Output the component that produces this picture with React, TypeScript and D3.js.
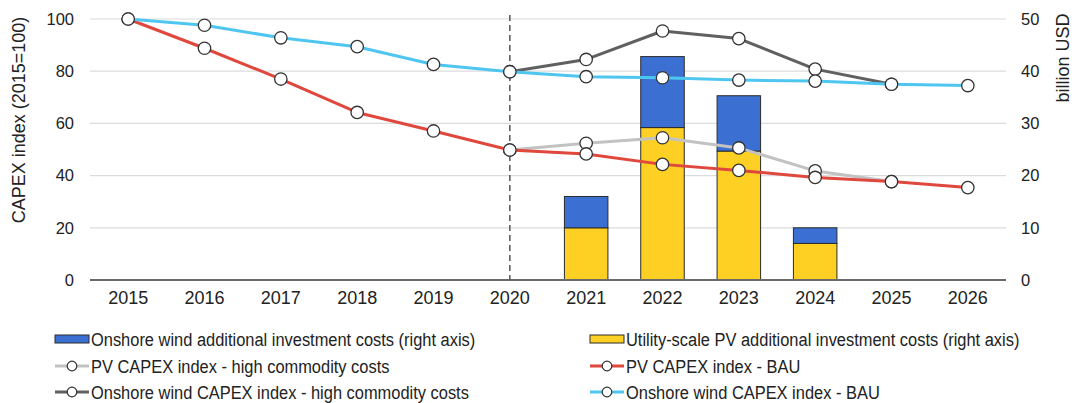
import React from "react";
import * as d3 from "d3";

const years = ["2015","2016","2017","2018","2019","2020","2021","2022","2023","2024","2025","2026"];
const leftTicks = [0, 20, 40, 60, 80, 100];
const rightTicks = [0, 10, 20, 30, 40, 50];

// bars (billion USD, right axis)
const pvInvest: (number | null)[] = [null,null,null,null,null,null,10,29.2,24.7,7,null,null];
const windInvest: (number | null)[] = [null,null,null,null,null,null,6,13.6,10.6,3,null,null];

// lines (index, left axis)
const pvHigh: (number | null)[] = [null,null,null,null,null,49.8,52.4,54.5,50.6,41.8,37.7,null];
const windHigh: (number | null)[] = [null,null,null,null,null,79.8,84.5,95.4,92.5,80.8,75.0,null];
const pvBAU: (number | null)[] = [100,88.8,77.0,64.2,57.1,49.8,48.3,44.3,42.0,39.3,37.7,35.4];
const windBAU: (number | null)[] = [100,97.6,92.8,89.4,82.6,79.8,77.9,77.5,76.6,76.2,75.0,74.5];

const BLUE = "#3b70d2";
const YELLOW = "#fdd023";
const RED = "#e0473d";
const CYAN = "#4fc6f0";
const DARKGRAY = "#606060";
const LIGHTGRAY = "#c2c2c2";
const FONT = "'Liberation Sans', Arial, sans-serif";

export default function App() {
  const W = 1079, H = 403;
  const x = d3.scaleBand<string>().domain(years).range([90, 1006]).paddingInner(0).paddingOuter(0);
  const yL = d3.scaleLinear().domain([0, 100]).range([280, 19]);
  const yR = d3.scaleLinear().domain([0, 50]).range([280, 19]);
  const cx = (y: string) => (x(y) as number) + x.bandwidth() / 2;
  const bw = x.bandwidth() * 0.57;

  const lineGen = d3.line<[string, number | null]>()
    .defined(d => d[1] != null)
    .x(d => cx(d[0]))
    .y(d => yL(d[1] as number));

  const series = [
    { vals: pvHigh, color: LIGHTGRAY },
    { vals: windHigh, color: DARKGRAY },
    { vals: pvBAU, color: RED },
    { vals: windBAU, color: CYAN },
  ];

  const legend = [
    { label: "Onshore wind additional investment costs (right axis)", type: "bar", color: BLUE, col: 0, row: 0 },
    { label: "Utility-scale PV additional investment costs (right axis)", type: "bar", color: YELLOW, col: 1, row: 0 },
    { label: "PV CAPEX index - high commodity costs", type: "line", color: LIGHTGRAY, col: 0, row: 1 },
    { label: "PV CAPEX index - BAU", type: "line", color: RED, col: 1, row: 1 },
    { label: "Onshore wind CAPEX index - high commodity costs", type: "line", color: DARKGRAY, col: 0, row: 2 },
    { label: "Onshore wind CAPEX index - BAU", type: "line", color: CYAN, col: 1, row: 2 },
  ];
  const colX = [55, 590];
  const rowY = [339, 366, 392];

  return (
    <svg width={W} height={H} style={{ position: "absolute", left: 0, top: 0, background: "#fff" }} fontFamily={FONT}>
      <rect x={0} y={0} width={W} height={H} fill="#fff" />
      {/* grid */}
      {leftTicks.filter(t => t > 0).map(t => (
        <line key={t} x1={90} x2={1006} y1={yL(t)} y2={yL(t)} stroke="#dcdcdc" strokeWidth={1.2} />
      ))}
      {/* bars */}
      {years.map((yr, i) => {
        const p = pvInvest[i], w = windInvest[i];
        if (p == null) return null;
        const x0 = cx(yr) - bw / 2;
        return (
          <g key={yr}>
            <rect x={x0} y={yR(p)} width={bw} height={yR(0) - yR(p)} fill={YELLOW} stroke="#2b2b2b" strokeWidth={1} />
            <rect x={x0} y={yR(p + (w as number))} width={bw} height={yR(p) - yR(p + (w as number))} fill={BLUE} stroke="#2b2b2b" strokeWidth={1} />
          </g>
        );
      })}
      {/* baseline */}
      <line x1={90} x2={1006} y1={yL(0)} y2={yL(0)} stroke="#6a6a6a" strokeWidth={2} />
      {/* dashed 2020 */}
      <line x1={cx("2020")} x2={cx("2020")} y1={15} y2={280} stroke="#555" strokeWidth={1.5} strokeDasharray="6,4" />
      {/* lines */}
      {series.map((s, si) => (
        <g key={si}>
          <path d={lineGen(years.map((y, i) => [y, s.vals[i]]) as any) || ""} fill="none" stroke={s.color} strokeWidth={3} strokeLinejoin="round" />
          {years.map((y, i) => s.vals[i] == null ? null : (
            <circle key={y} cx={cx(y)} cy={yL(s.vals[i] as number)} r={6.2} fill="#fff" stroke="#333" strokeWidth={1.3} />
          ))}
        </g>
      ))}
      {/* left axis labels */}
      {leftTicks.map(t => (
        <text key={t} x={74} y={yL(t)} dy="0.35em" textAnchor="end" fontSize={16.5} fill="#222">{t}</text>
      ))}
      <text transform={`translate(25,120) rotate(-90)`} textAnchor="middle" fontSize={18} fill="#222">CAPEX index (2015=100)</text>
      {/* right axis labels */}
      {rightTicks.map(t => (
        <text key={t} x={1021} y={yR(t)} dy="0.35em" textAnchor="start" fontSize={16.5} fill="#222">{t}</text>
      ))}
      <text transform={`translate(1069,58) rotate(-90)`} textAnchor="middle" fontSize={18} fill="#222">billion USD</text>
      {/* x labels */}
      {years.map(y => (
        <text key={y} x={cx(y)} y={304} textAnchor="middle" fontSize={18} fill="#222">{y}</text>
      ))}
      {/* legend */}
      {legend.map((l, i) => {
        const lx = colX[l.col], ly = rowY[l.row];
        return (
          <g key={i}>
            {l.type === "bar" ? (
              <rect x={lx} y={ly - 4} width={34} height={8} fill={l.color} stroke="#2b2b2b" strokeWidth={1} />
            ) : (
              <g>
                <line x1={lx} x2={lx + 34} y1={ly} y2={ly} stroke={l.color} strokeWidth={3} />
                <circle cx={lx + 17} cy={ly} r={4.8} fill="#fff" stroke="#333" strokeWidth={1.2} />
              </g>
            )}
            <text transform={`translate(${lx + 36},${ly}) scale(0.865,1)`} dy="0.35em" fontSize={19} fill="#222">{l.label}</text>
          </g>
        );
      })}
    </svg>
  );
}
